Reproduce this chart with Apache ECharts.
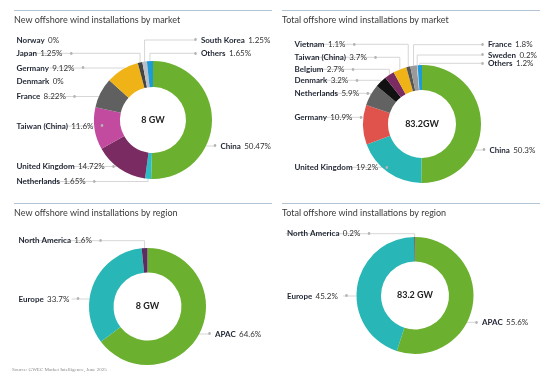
<!DOCTYPE html>
<html>
<head>
<meta charset="utf-8">
<script src="https://cdn.jsdelivr.net/npm/echarts@6/dist/echarts.min.js"></script>
<style>
  html, body { margin: 0; padding: 0; background: #fff; }
  #main { width: 554px; height: 377px; }
</style>
</head>
<body>
<div id="main"></div>
<script>
// 차트 제목 / 가운데 합계
var chartTitles = [
  'New offshore wind installations by market',
  'Total offshore wind installations by market',
  'New offshore wind installations by region',
  'Total offshore wind installations by region'
];
var centerTotals = ['8 GW', '83.2GW', '8 GW', '83.2 GW'];

// 신규 설치 - 시장별 (%)
var newMarketNames = ['China', 'Netherlands', 'United Kingdom', 'Taiwan (China)', 'France', 'Denmark', 'Germany', 'Japan', 'Norway', 'South Korea', 'Others'];
var newMarketValues = [50.47, 1.65, 14.72, 11.6, 8.22, 0, 9.12, 1.25, 0, 1.25, 1.65];

// 누적 설치 - 시장별 (%)
var totalMarketNames = ['China', 'United Kingdom', 'Germany', 'Netherlands', 'Denmark', 'Belgium', 'Taiwan (China)', 'Vietnam', 'France', 'Sweden', 'Others'];
var totalMarketValues = [50.3, 19.2, 10.9, 5.9, 3.2, 2.7, 3.7, 1.1, 1.8, 0.2, 1.2];

// 지역별 (%)
var regionNames = ['APAC', 'Europe', 'North America'];
var newRegionValues = [64.6, 33.7, 1.6];
var totalRegionValues = [55.6, 45.2, 0.2];

var sourceNote = 'Source: GWEC Market Intelligence, June 2025';

/* 색상 */
var newMarketColors = ['#6bb02e', '#2cbcc6', '#7a2c62', '#c24b9f', '#606060', '#606060', '#efb317', '#444444', '#444444', '#bcc0c6', '#1d9ad8'];
var totalMarketColors = ['#6bb02e', '#28b6b6', '#e0534d', '#626262', '#111111', '#7a2c62', '#efb317', '#555555', '#9a9a9a', '#cfcfcf', '#1d9ad8'];
var newRegionColors = ['#6bb02e', '#28b6b6', '#5b2d5e'];
var totalRegionColors = ['#6bb02e', '#28b6b6', '#5b2d5e'];

/* 라벨 위치 [x, y, 방향, 선 모양] */
var newMarketLabelPos = [
  [213, 146, 'r', 'h'], [16.5, 181.5, 'l', 'e'], [16.5, 166.5, 'l', 'h'], [16.5, 126, 'l', 'h'],
  [16.5, 96.5, 'l', 'h'], [16.5, 81.5, 'l', 'h'], [16.5, 68, 'l', 'h'], [16.5, 53.3, 'l', 'e'],
  [16.5, 40.3, 'l', 'e'], [193.5, 40, 'r', 'e'], [193.5, 53.3, 'r', 'e']
];
var totalMarketLabelPos = [
  [482, 150, 'r', 'h'], [294.5, 167.3, 'l', 'h'], [294.5, 117.3, 'l', 'h'], [294.5, 93.3, 'l', 'e'],
  [294.5, 80.3, 'l', 'e'], [294.5, 69.3, 'l', 'e'], [294.5, 57.3, 'l', 'e'], [294.5, 44.3, 'l', 'e'],
  [480.5, 44.7, 'r', 'e'], [480.5, 55, 'r', 'e'], [480.5, 63.3, 'r', 'e']
];
var newRegionLabelPos = [[207.5, 334, 'r', 'h'], [18.5, 299, 'l', 'h'], [18.5, 240.7, 'l', 'e']];
var totalRegionLabelPos = [[474.5, 322.3, 'r', 'h'], [287, 296, 'l', 'h'], [287, 233.7, 'l', 'e']];

var FONT = 'Lato, "DejaVu Sans", sans-serif';

var panels = [
  { names: newMarketNames, values: newMarketValues, colors: newMarketColors, pos: newMarketLabelPos, center: [153, 120], radius: [33, 59], titleX: 14, titleY: 20, lineY: 10.5 },
  { names: totalMarketNames, values: totalMarketValues, colors: totalMarketColors, pos: totalMarketLabelPos, center: [422, 124], radius: [34, 59], titleX: 282, titleY: 20, lineY: 10.5 },
  { names: regionNames, values: newRegionValues, colors: newRegionColors, pos: newRegionLabelPos, center: [147.5, 306.5], radius: [34, 58.5], titleX: 14, titleY: 213, lineY: 203.5 },
  { names: regionNames, values: totalRegionValues, colors: totalRegionColors, pos: totalRegionLabelPos, center: [415, 295.5], radius: [34, 58.5], titleX: 282, titleY: 213, lineY: 203.5 }
];

// 라벨 위치 + 지시선
function makeLabelLayout(panel) {
  return function (params) {
    var p = panel.pos[params.dataIndex];
    var lx = p[0], ly = p[1], side = p[2], mode = p[3];
    var w = params.rect.width;
    var ex = side === 'l' ? lx + w - 2 : lx + 2;
    var cx = panel.center[0], cy = panel.center[1], r = panel.radius[1];
    var pts = params.labelLinePoints;
    var line;
    if (pts) {
      var dy = ly - cy;
      if (mode === 'h' && Math.abs(dy) < r) {
        var dx = Math.sqrt(r * r - dy * dy);
        var ax = side === 'l' ? cx - dx : cx + dx;
        line = [[ax, ly], [ax, ly], [ex, ly]];
      } else {
        line = [[pts[0][0], pts[0][1]], [pts[0][0], ly], [ex, ly]];
      }
    }
    return { x: lx, y: ly, align: 'left', verticalAlign: 'middle', labelLinePoints: line };
  };
}

function makeFormatter(panel) {
  return function (p) {
    var txt = '{n|' + p.name + '} {v|' + p.value + '%}';
    if (p.value === 0) return txt;
    return panel.pos[p.dataIndex][2] === 'l' ? txt + '  {d|•}' : '{d|•} ' + txt;
  };
}

var series = [];
var graphic = [];

panels.forEach(function (panel, k) {
  var data = panel.names.map(function (name, i) {
    return {
      name: name,
      value: panel.values[i],
      itemStyle: { color: panel.colors[i] },
      labelLine: { show: panel.values[i] !== 0 }
    };
  });
  series.push({
    type: 'pie',
    center: panel.center,
    radius: panel.radius,
    startAngle: 90,
    clockwise: true,
    avoidLabelOverlap: false,
    silent: true,
    itemStyle: { borderWidth: 0 },
    label: {
      show: true,
      position: 'outside',
      formatter: makeFormatter(panel),
      rich: {
        n: { fontFamily: FONT, fontSize: 8, fontWeight: 'bold', color: '#1f2533' },
        v: { fontFamily: FONT, fontSize: 8, color: '#333333' },
        d: { fontFamily: FONT, fontSize: 7, color: '#b5b5b5' }
      }
    },
    labelLine: { show: true, lineStyle: { color: '#cccccc', width: 0.8 } },
    labelLayout: makeLabelLayout(panel),
    data: data
  });

  // 구분선, 제목, 가운데 합계
  graphic.push({
    type: 'line',
    shape: { x1: panel.titleX, y1: panel.lineY, x2: panel.titleX + 258, y2: panel.lineY },
    style: { stroke: '#b3c4d4', lineWidth: 1 }
  });
  graphic.push({
    type: 'text', x: panel.titleX, y: panel.titleY,
    style: { text: chartTitles[k], fontFamily: FONT, fontSize: 9, fill: '#3a3a3a', verticalAlign: 'middle', align: 'left' }
  });
  graphic.push({
    type: 'text', x: panel.center[0], y: panel.center[1],
    style: { text: centerTotals[k], fontFamily: FONT, fontSize: 9, fontWeight: 'bold', fill: '#222222', align: 'center', verticalAlign: 'middle' }
  });
});

graphic.push({
  type: 'text', x: 12, y: 370,
  style: { text: sourceNote, fontFamily: '"Liberation Serif", serif', fontSize: 5, fill: '#8a8a8a', verticalAlign: 'middle' }
});

var myChart = echarts.init(document.getElementById('main'));

option = {
  backgroundColor: '#ffffff',
  animation: false,
  graphic: graphic,
  series: series
};

myChart.setOption(option);
</script>
</body>
</html>
